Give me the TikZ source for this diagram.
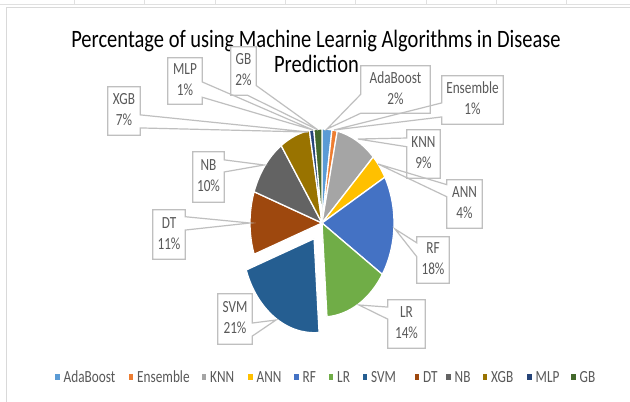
\documentclass[tikz,border=0pt]{standalone}
\usepackage{fontspec}
\setmainfont{Carlito}
\usepackage{graphicx}
\usetikzlibrary{calc}
\definecolor{cAda}{HTML}{5B9BD5}
\definecolor{cEns}{HTML}{ED7D31}
\definecolor{cKNN}{HTML}{A5A5A5}
\definecolor{cANN}{HTML}{FFC000}
\definecolor{cRF}{HTML}{4472C4}
\definecolor{cLR}{HTML}{70AD47}
\definecolor{cSVM}{HTML}{255E91}
\definecolor{cDT}{HTML}{9E480E}
\definecolor{cNB}{HTML}{636363}
\definecolor{cXGB}{HTML}{997300}
\definecolor{cMLP}{HTML}{264478}
\definecolor{cGB}{HTML}{43682B}
\definecolor{lblc}{HTML}{595959}
\definecolor{callc}{HTML}{BFBFBF}
\definecolor{gridc}{HTML}{E0E0E0}
\definecolor{framec}{HTML}{D9D9D9}
\newcommand\lblfont{\fontsize{17}{21}\selectfont}
\newcommand\titlefont{\fontsize{25}{30}\selectfont}
\newcommand\lbltxt[2]{\scalebox{0.78}[1]{\begin{tabular}{@{}c@{}}#1\\#2\end{tabular}}}
\newcommand\wedgeR[4]{\draw[callout] (#1.north west) -- (#1.north east) -- ($(#1.north east)!#2!(#1.south east)$) -- (#4) -- ($(#1.north east)!#3!(#1.south east)$) -- (#1.south east) -- (#1.south west) -- cycle;}
\newcommand\wedgeL[4]{\draw[callout] (#1.north east) -- (#1.north west) -- ($(#1.north west)!#2!(#1.south west)$) -- (#4) -- ($(#1.north west)!#3!(#1.south west)$) -- (#1.south west) -- (#1.south east) -- cycle;}
\begin{document}
\begin{tikzpicture}[x=1pt,y=1pt,
  lbl/.style={fill=white, inner sep=0pt, text=lblc, font=\lblfont},
  callout/.style={draw=callc, line width=1.2pt, line join=miter},
  slice/.style={draw=white, line width=1.3pt, line join=round}]
\useasboundingbox (0,0) rectangle (630,-402);
\fill[white] (0,0) rectangle (630,-402);
% spreadsheet grid and chart frame
\draw[gridc, line width=0.8pt] (0,-4) -- (630,-4);
\foreach \x in {74,144,215,285,355,426,496,566} \draw[gridc, line width=0.8pt] (\x,0) -- (\x,-4);
\draw[framec, line width=1pt] (630,-7.5) -- (6.7,-7.5) -- (6.7,-402);
% title
\node[anchor=base, inner sep=0pt, font=\titlefont] (t1) at (316,-47) {\scalebox{0.82}[1]{Percentage of using Machine Learnig Algorithms in Disease}};
\node[anchor=base, inner sep=0pt, font=\titlefont] (t2) at (316.5,-72) {\scalebox{0.82}[1]{Prediction}};
% pie
\def\cx{322}\def\cy{-223}
\foreach \a/\b/\c in {0/2.2/cAda, 2.2/3.4/cEns, 3.4/12.6/cKNN, 12.6/16.9/cANN, 16.9/34.2/cRF, 34.2/48.9/cLR, 69.6/80.4/cDT, 80.4/90.4/cNB, 90.4/97.2/cXGB, 97.2/98.2/cMLP, 98.2/100/cGB} {
  \pgfmathsetmacro\sa{90-3.6*\a}
  \pgfmathsetmacro\ea{90-3.6*\b}
  \filldraw[slice, fill=\c] (\cx,\cy) -- ++({72*cos(\sa)},{94*sin(\sa)}) arc[start angle=\sa, end angle=\ea, x radius=72, y radius=94] -- cycle;
}
\pgfmathsetmacro\sa{90-3.6*48.9}
\pgfmathsetmacro\ea{90-3.6*69.6}
\filldraw[slice, fill=cSVM] (\cx-7.9,\cy-15.7) -- ++({72*cos(\sa)},{94*sin(\sa)}) arc[start angle=\sa, end angle=\ea, x radius=72, y radius=94] -- cycle;
% tips
\coordinate (tada) at (327,-129);
\coordinate (tens) at (334,-130);
\coordinate (tknn) at (358,-139);
\coordinate (tann) at (378,-164);
\coordinate (trf) at (395,-229);
\coordinate (tlr) at (359,-305);
\coordinate (tsvm) at (276,-320);
\coordinate (tdt) at (250,-223);
\coordinate (tnb) at (264,-165);
\coordinate (txgb) at (308,-132);
\coordinate (tmlp) at (313,-130);
\coordinate (tgb) at (318,-130);
% labels
\node[lbl, minimum width=69, minimum height=47] (lada) at (395.5,-89.5) {\lbltxt{AdaBoost}{2\%}};
\node[lbl, minimum width=61, minimum height=48] (lens) at (472.5,-100) {\lbltxt{Ensemble}{1\%}};
\node[lbl, minimum width=33, minimum height=48] (lknn) at (423.5,-154) {\lbltxt{KNN}{9\%}};
\node[lbl, minimum width=35, minimum height=48] (lann) at (464.5,-204) {\lbltxt{ANN}{4\%}};
\node[lbl, minimum width=32, minimum height=46] (lrf) at (433,-260) {\lbltxt{RF}{18\%}};
\node[lbl, minimum width=37, minimum height=48] (llr) at (406.5,-324) {\lbltxt{LR}{14\%}};
\node[lbl, minimum width=34, minimum height=50] (lsvm) at (235,-319) {\lbltxt{SVM}{21\%}};
\node[lbl, minimum width=32, minimum height=49] (ldt) at (169,-234.5) {\lbltxt{DT}{11\%}};
\node[lbl, minimum width=31, minimum height=50] (lnb) at (208.5,-177) {\lbltxt{NB}{10\%}};
\node[lbl, minimum width=32, minimum height=48] (lxgb) at (124,-111) {\lbltxt{XGB}{7\%}};
\node[lbl, minimum width=34, minimum height=46] (lmlp) at (185,-81) {\lbltxt{MLP}{1\%}};
\node[lbl, minimum width=25, minimum height=48] (lgb) at (243.5,-71) {\lbltxt{GB}{2\%}};
% callout outlines
\wedgeL{lada}{0.6}{1.0}{tada}
\wedgeL{lens}{0.56}{0.85}{tens}
\wedgeL{lknn}{0.17}{0.35}{tknn}
\wedgeL{lann}{0.1}{0.35}{tann}
\wedgeL{lrf}{0.13}{0.43}{trf}
\wedgeL{llr}{0.15}{0.4}{tlr}
\wedgeR{lsvm}{0.58}{0.84}{tsvm}
\wedgeR{ldt}{0.14}{0.41}{tdt}
\wedgeR{lnb}{0.16}{0.4}{tnb}
\wedgeR{lxgb}{0.58}{0.85}{txgb}
\wedgeR{lmlp}{0.52}{0.85}{tmlp}
\draw[callout] (lgb.north west) -- (lgb.north east) -- ($(lgb.north east)!0.8!(lgb.south east)$) -- (tgb) -- ($(lgb.south west)!0.65!(lgb.south east)$) -- (lgb.south west) -- cycle;
% legend
\foreach \n/\x/\c [count=\i] in {AdaBoost/55/cAda, Ensemble/128.5/cEns, KNN/201.5/cKNN, ANN/248/cANN, RF/294/cRF, LR/328.5/cLR, SVM/362.5/cSVM, DT/414.5/cDT, NB/446/cNB, XGB/482.5/cXGB, MLP/527/cMLP, GB/571/cGB} {
  \node[fill=\c, minimum width=4.5, minimum height=6, inner sep=0pt, anchor=west] (sq\i) at (\x,-377) {};
  \node[anchor=base west, inner sep=0pt, font=\lblfont, text=lblc] (lg\i) at (\x+8.5,-382) {\scalebox{0.78}[1]{\n}};
}
\end{tikzpicture}
\end{document}
